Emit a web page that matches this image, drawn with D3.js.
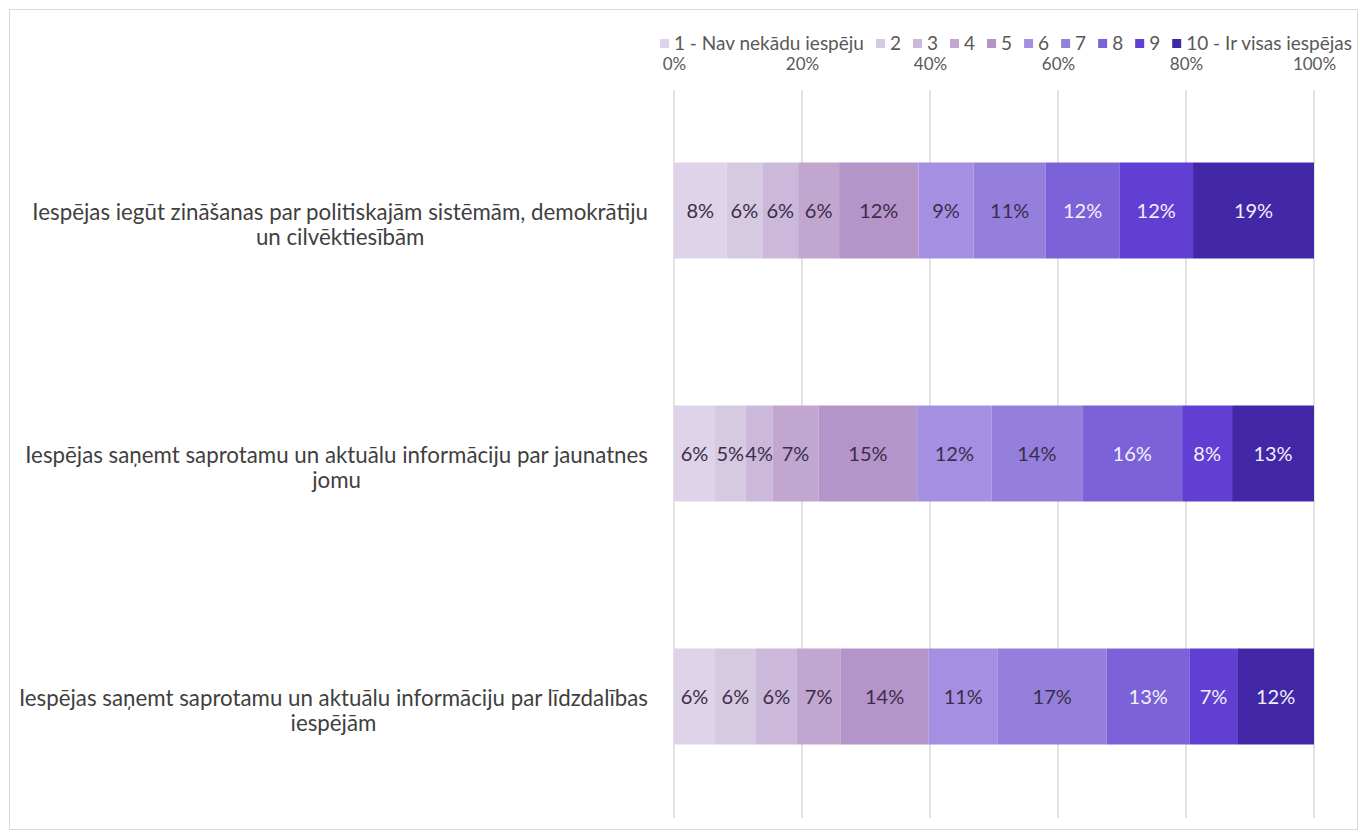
<!DOCTYPE html>
<html lang="en">
<head>
<meta charset="utf-8">
<script src="https://d3js.org/d3.v7.min.js"></script>
<style>
  body { margin: 0; background: #fff; }
  text { font-family: Lato, "Noto Sans", sans-serif; }
  .grid line { stroke: #d9d9d9; stroke-width: 1.5px; }
  .axis text { fill: #595959; font-size: 17px; }
  .cat { fill: #3f3f3f; font-size: 22.3px; }
  .val { font-size: 20px; }
  .legend text { fill: #595959; font-size: 19px; }
</style>
</head>
<body>
<svg id="chart" width="1360" height="834"></svg>
<script>
// categories (top to bottom), each wrapped into two lines
var categories = [
  ["Iespējas iegūt zināšanas par politiskajām sistēmām, demokrātiju", "un cilvēktiesībām"],
  ["Iespējas saņemt saprotamu un aktuālu informāciju par jaunatnes", "jomu"],
  ["Iespējas saņemt saprotamu un aktuālu informāciju par līdzdalības", "iespējām"]
];

var seriesNames = ["1 - Nav nekādu iespēju", "2", "3", "4", "5", "6", "7", "8", "9", "10 - Ir visas iespējas"];

// shares in percent, one array per category, in series order
var row1 = [8.2, 5.6, 5.6, 6.4, 12.4, 8.6, 11.3, 11.5, 11.5, 18.9];
var row2 = [6.4, 4.8, 4.2, 7.2, 15.4, 11.6, 14.2, 15.6, 7.8, 12.8];
var row3 = [6.4, 6.4, 6.4, 6.8, 13.8, 10.8, 17.0, 13.0, 7.4, 12.0];

var xTicks = [0, 20, 40, 60, 80, 100];

var colors = ["#dfd3e9", "#d6cae0", "#cbb8da", "#c1a7d0", "#b594c9",
              "#a58fe3", "#9480dc", "#7c62d9", "#603fd2", "#4227a7"];

var rows = [row1, row2, row3];
var svg = d3.select("#chart");

svg.append("rect")
  .attr("x", 9.5).attr("y", 9.5)
  .attr("width", 1348).attr("height", 820)
  .attr("fill", "#fff").attr("stroke", "#d9d9d9");

var x = d3.scaleLinear().domain([0, 100]).range([674, 1314]);
var y = d3.scaleBand()
  .domain(d3.range(categories.length))
  .range([89, 818])
  .paddingInner(0.605)
  .paddingOuter(0.3025);

// gridlines
svg.append("g").attr("class", "grid")
  .selectAll("line")
  .data(xTicks)
  .enter().append("line")
    .attr("x1", function(d) { return x(d); })
    .attr("x2", function(d) { return x(d); })
    .attr("y1", 90).attr("y2", 818);

// top axis labels
var xAxis = svg.append("g").attr("class", "axis")
  .attr("transform", "translate(0,70)")
  .call(d3.axisTop(x).tickValues(xTicks).tickSize(0).tickPadding(0)
    .tickFormat(function(d) { return d + "%"; }));
xAxis.select(".domain").remove();
xAxis.attr("font-family", null).attr("font-size", null);

// stacked bars
var table = rows.map(function(r, i) {
  var o = { idx: i };
  r.forEach(function(v, j) { o["s" + j] = v; });
  return o;
});
var keys = seriesNames.map(function(d, j) { return "s" + j; });
var stack = d3.stack().keys(keys)(table);

var groups = svg.append("g").selectAll("g")
  .data(stack)
  .enter().append("g")
    .attr("fill", function(d, j) { return colors[j]; });

groups.selectAll("rect")
  .data(function(d) { return d; })
  .enter().append("rect")
    .attr("x", function(d) { return x(d[0]); })
    .attr("width", function(d) { return x(d[1]) - x(d[0]); })
    .attr("y", function(d) { return y(d.data.idx); })
    .attr("height", y.bandwidth());

groups.each(function(s, j) {
  d3.select(this).selectAll("text")
    .data(s)
    .enter().append("text")
      .attr("class", "val")
      .attr("x", function(d) { return (x(d[0]) + x(d[1])) / 2; })
      .attr("y", function(d) { return y(d.data.idx) + y.bandwidth() / 2; })
      .attr("dy", "0.35em")
      .attr("text-anchor", "middle")
      .attr("fill", j >= 7 ? "#f4f0fb" : "#3b2d4a")
      .text(function(d) { return Math.round(d[1] - d[0]) + "%"; });
});

// category labels: block right-aligned, lines centred within block
categories.forEach(function(lines, i) {
  var g = svg.append("g");
  var t = g.selectAll("text").data(lines).enter().append("text")
    .attr("class", "cat")
    .attr("text-anchor", "middle")
    .attr("dy", "0.35em")
    .attr("y", function(d, k) { return y(i) + y.bandwidth() / 2 + 2 + k * 25; })
    .text(function(d) { return d; });
  var w = d3.max(t.nodes(), function(n) { return n.getComputedTextLength(); });
  t.attr("x", 648 - w / 2);
});

// legend, right-aligned at the top
var legend = svg.append("g").attr("class", "legend");
var items = legend.selectAll("g").data(seriesNames).enter().append("g");
items.append("rect").attr("width", 9).attr("height", 9).attr("y", -5)
  .attr("fill", function(d, j) { return colors[j]; });
items.append("text").attr("x", 14).attr("dy", "0.32em").text(function(d) { return d; });
var pos = 0;
items.each(function() {
  var tw = d3.select(this).select("text").node().getComputedTextLength();
  d3.select(this).attr("transform", "translate(" + pos + ",44)");
  pos += 14 + tw + 12;
});
legend.attr("transform", "translate(" + (1352 - (pos - 12)) + ",0)");
</script>
</body>
</html>
